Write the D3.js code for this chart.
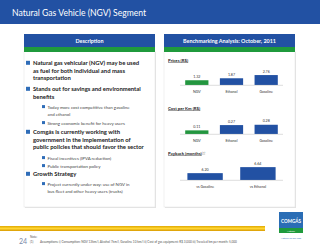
<!DOCTYPE html>
<html>
<head>
<meta charset="utf-8">
<script src="https://cdn.jsdelivr.net/npm/d3@7"></script>
<style>
  body { margin: 0; background: #fff; }
  svg { display: block; font-family: Lato, 'Open Sans', sans-serif; }
</style>
</head>
<body>
<svg id="chart"></svg>
<script>
// chart data
const priceCats = ['NGV', 'Ethanol', 'Gasoline']
const priceVals = [1.32, 1.87, 2.76]
const costCats = ['NGV', 'Ethanol', 'Gasoline']
const costVals = [0.11, 0.27, 0.28]
const paybackCats = ['vs Gasoline', 'vs Ethanol']
const paybackVals = [6.20, 6.64]
const priceColors = ['#23963f', '#2251a3', '#2251a3']

// description bullets: level 1 = bold main, level 2 = sub bullet
const bullets = [
  { level: 1, lines: ['Natural gas vehicular (NGV) may be used', 'as fuel for both individual and mass', 'transportation'] },
  { level: 1, lines: ['Stands out for savings and environmental', 'benefits'] },
  { level: 2, lines: ['Today more cost competitive than gasoline', 'and ethanol'] },
  { level: 2, lines: ['Strong economic benefit for heavy users'] },
  { level: 1, lines: ['Comgás is currently working with', 'government in the implementation of', 'public policies that should favor the sector'] },
  { level: 2, lines: ['Fiscal incentives (IPVA reduction)'] },
  { level: 2, lines: ['Public transportation policy'] },
  { level: 1, lines: ['Growth Strategy'] },
  { level: 2, lines: ['Project currently under way: use of NGV in', 'bus fleet and other heavy users (trucks)'] }
]
// baseline of first line of each bullet
const bulletTops = [65, 91, 108.5, 124.5, 134, 159.5, 167.5, 176, 185.5]

const width = 320
const height = 247
const blue = '#2251a3'
const green = '#1f9a3c'

const svg = d3.select('#chart')
  .attr('width', width)
  .attr('height', height)

// title band
svg.append('rect').attr('x', 0).attr('y', 0).attr('width', width).attr('height', 24).attr('fill', blue)
svg.append('text')
  .attr('x', 12).attr('y', 16)
  .attr('font-size', 8.6)
  .attr('fill', '#fff')
  .text('Natural Gas Vehicle (NGV) Segment')

// panels
const panels = [
  { x: 24, w: 131, title: 'Description' },
  { x: 164, w: 131, title: 'Benchmarking Analysis: October, 2011' }
]
panels.forEach(p => {
  svg.append('rect')
    .attr('x', p.x + 1).attr('y', 52).attr('width', p.w).attr('height', 156)
    .attr('fill', '#e2e2e2')
  svg.append('rect')
    .attr('x', p.x).attr('y', 51).attr('width', p.w).attr('height', 156)
    .attr('fill', '#fff').attr('stroke', '#e6e6e6').attr('stroke-width', 0.6)
  svg.append('rect').attr('x', p.x).attr('y', 34).attr('width', p.w).attr('height', 13).attr('fill', blue)
  svg.append('rect').attr('x', p.x).attr('y', 47).attr('width', p.w).attr('height', 5).attr('fill', green)
  svg.append('text')
    .attr('x', p.x + p.w / 2).attr('y', 42.5)
    .attr('text-anchor', 'middle')
    .attr('font-size', 5.4)
    .attr('font-weight', 'bold')
    .attr('fill', '#fff')
    .text(p.title)
})

// bullets
const desc = svg.append('g')
bullets.forEach((b, i) => {
  const main = b.level === 1
  const y = bulletTops[i]
  const bx = main ? 26 : 42
  const tx = main ? 33 : 47.5
  const lh = main ? 7.5 : 7
  desc.append('rect')
    .attr('x', bx).attr('y', y - (main ? 4.2 : 3.4))
    .attr('width', main ? 4 : 3).attr('height', main ? 4 : 3)
    .attr('fill', '#2f6db8')
  b.lines.forEach((line, j) => {
    desc.append('text')
      .attr('x', tx).attr('y', y + j * lh)
      .attr('font-size', main ? 5.9 : 4.4)
      .attr('font-weight', main ? 'bold' : 'normal')
      .attr('fill', main ? '#222' : '#444')
      .text(line)
  })
})

// small bar chart helper
const drawBars = (cats, vals, opts) => {
  const g = svg.append('g')
  const x = d3.scaleBand().domain(cats).range([180, 283])
    .paddingInner(opts.padIn).paddingOuter(opts.padOut)
  const yS = d3.scaleLinear().domain(opts.domain).range([opts.base, opts.base - opts.span])

  g.append('text')
    .attr('x', 168).attr('y', opts.titleY)
    .attr('font-size', 4.3).attr('font-weight', 'bold')
    .attr('text-decoration', 'underline')
    .attr('fill', '#222')
    .text(opts.title)
    .append('tspan')
    .attr('font-size', 2.6).attr('dy', -1.6)
    .attr('font-weight', 'normal')
    .text(opts.sup || '')

  g.selectAll('rect.bar')
    .data(vals)
    .enter().append('rect')
    .attr('class', 'bar')
    .attr('x', (d, i) => x(cats[i]))
    .attr('y', d => yS(d))
    .attr('width', x.bandwidth())
    .attr('height', d => opts.base - yS(d))
    .attr('fill', (d, i) => opts.colors ? opts.colors[i] : blue)

  g.selectAll('text.val')
    .data(vals)
    .enter().append('text')
    .attr('class', 'val')
    .attr('x', (d, i) => x(cats[i]) + x.bandwidth() / 2)
    .attr('y', d => yS(d) - 2.5)
    .attr('text-anchor', 'middle')
    .attr('font-size', 3.6)
    .attr('fill', '#333')
    .text(d => d3.format(opts.fmt)(d))

  g.append('line')
    .attr('x1', 180).attr('x2', 283)
    .attr('y1', opts.base + 0.3).attr('y2', opts.base + 0.3)
    .attr('stroke', '#bbb').attr('stroke-width', 0.5)

  g.selectAll('text.cat')
    .data(cats)
    .enter().append('text')
    .attr('class', 'cat')
    .attr('x', d => x(d) + x.bandwidth() / 2)
    .attr('y', opts.base + 7.5)
    .attr('text-anchor', 'middle')
    .attr('font-size', 3.6)
    .attr('fill', '#333')
    .text(d => d)
}

drawBars(priceCats, priceVals, {
  title: 'Prices (R$)', titleY: 61.5, base: 85, domain: [0, 3], span: 10.8,
  padIn: 0.33, padOut: 0.15, fmt: '.2f', colors: priceColors
})
drawBars(costCats, costVals, {
  title: 'Cost per Km (R$)', titleY: 109.5, base: 134, domain: [0, 0.3], span: 9.9,
  padIn: 0.33, padOut: 0.15, fmt: '.2f', colors: priceColors
})
drawBars(paybackCats, paybackVals, {
  title: 'Payback (months)', sup: ' (1)', titleY: 154.5, base: 180, domain: [5.7, 7], span: 17.8,
  padIn: 0.33, padOut: 0.14, fmt: '.2f'
})

// yellow rule
const defs = svg.append('defs')
const grad = defs.append('linearGradient').attr('id', 'gold').attr('x1', 0).attr('x2', 0).attr('y1', 0).attr('y2', 1)
grad.append('stop').attr('offset', '0%').attr('stop-color', '#e0a800')
grad.append('stop').attr('offset', '50%').attr('stop-color', '#ffd633')
grad.append('stop').attr('offset', '100%').attr('stop-color', '#d99a00')
svg.append('rect').attr('x', 0).attr('y', 226).attr('width', 265).attr('height', 5).attr('fill', 'url(#gold)')

// logo
svg.append('rect').attr('x', 279).attr('y', 212).attr('width', 24).attr('height', 16).attr('fill', '#2a6db5')
svg.append('rect').attr('x', 279).attr('y', 228).attr('width', 24).attr('height', 5).attr('fill', '#1f9a3c')
svg.append('text').attr('x', 291).attr('y', 223).attr('text-anchor', 'middle')
  .attr('font-size', 4.6).attr('font-weight', 'bold').attr('fill', '#fff').text('COMGÁS')
svg.append('text').attr('x', 291).attr('y', 231.6).attr('text-anchor', 'middle')
  .attr('font-size', 2.4).attr('fill', '#fff').text('Natural')
svg.append('text').attr('x', 291).attr('y', 239).attr('text-anchor', 'middle')
  .attr('font-size', 2.4).attr('fill', '#3a6fb8').text('Natural ao seu lado')

// footer
svg.append('text').attr('x', 19).attr('y', 243.5)
  .attr('font-size', 7).attr('fill', '#7a8aa8').text('24')
svg.append('text').attr('x', 30).attr('y', 238)
  .attr('font-size', 3).attr('fill', '#555').text('Note:')
svg.append('text').attr('x', 30).attr('y', 243)
  .attr('font-size', 3).attr('fill', '#555').text('(1)')
svg.append('text').attr('x', 40).attr('y', 243)
  .attr('font-size', 3.1).attr('fill', '#555')
  .text('Assumptions: i) Consumption: NGV 13km/l, Alcohol 7km/l, Gasoline 10 km/l  ii) Cost of gas equipment: R$ 3,000  iii) Traveled km per month: 5,000')
</script>
</body>
</html>
